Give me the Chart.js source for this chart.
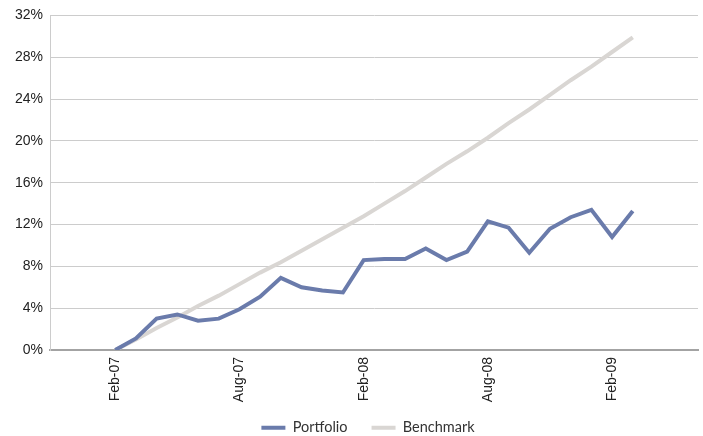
<!DOCTYPE html>
<html>
<head>
<meta charset="utf-8">
<script src="https://cdn.jsdelivr.net/npm/chart.js@4.4.1/dist/chart.umd.min.js"></script>
<style>
  html, body { margin: 0; padding: 0; background: #ffffff; }
  #wrap { width: 703px; height: 436px; }
</style>
</head>
<body>
<div id="wrap"><canvas id="perf-chart" width="703" height="436"></canvas></div>
<script>
  // Monthly points, Feb-07 .. Mar-09.
  const months = [
    'Feb-07', 'Mar-07', 'Apr-07', 'May-07', 'Jun-07', 'Jul-07', 'Aug-07', 'Sep-07', 'Oct-07', 'Nov-07', 'Dec-07', 'Jan-08',
    'Feb-08', 'Mar-08', 'Apr-08', 'May-08', 'Jun-08', 'Jul-08', 'Aug-08', 'Sep-08', 'Oct-08', 'Nov-08', 'Dec-08', 'Jan-09',
    'Feb-09', 'Mar-09'
  ];
  const portfolio = [
    0.0, 1.1, 3.0, 3.4, 2.8, 3.0, 3.9, 5.1, 6.9, 6.0, 5.7, 5.5,
    8.6, 8.7, 8.7, 9.7, 8.6, 9.4, 12.3, 11.7, 9.3, 11.6, 12.7, 13.4,
    10.8, 13.3
  ];
  const benchmark = [
    0.0, 1.0, 2.1, 3.1, 4.2, 5.2, 6.3, 7.4, 8.4, 9.5, 10.6, 11.7,
    12.8, 14.0, 15.2, 16.5, 17.8, 19.0, 20.3, 21.7, 23.0, 24.4, 25.8, 27.1,
    28.5, 29.9
  ];
  const xTickLabels = [ 'Feb-07', 'Aug-07', 'Feb-08', 'Aug-08', 'Feb-09' ];
  const yTicks = [ 0, 4, 8, 12, 16, 20, 24, 28, 32 ];

  const toPoints = ( arr ) => arr.map( ( v, i ) => ( { x: i, y: v } ) );

  // Nudge the legend a little right, and let the rotated x labels run past the axis box.
  const layoutTweaks = {
    id: 'layoutTweaks',
    afterLayout( chart ) {
      if ( chart.legend ) {
        chart.legend.left += 19;
        chart.legend.right += 19;
      }
      if ( chart.scales.x ) {
        chart.scales.x.bottom = chart.height;
      }
    },
  };

  new Chart( document.getElementById( 'perf-chart' ).getContext( '2d' ), {
    type: 'line',
    data: {
      datasets: [
        {
          label: 'Portfolio',
          data: toPoints( portfolio ),
          borderColor: '#6a7bab',
          backgroundColor: '#6a7bab',
          borderWidth: 4,
          pointRadius: 0,
          tension: 0,
          order: 1,
        },
        {
          label: 'Benchmark',
          data: toPoints( benchmark ),
          borderColor: '#d9d6d3',
          backgroundColor: '#d9d6d3',
          borderWidth: 4,
          pointRadius: 0,
          tension: 0,
          order: 2,
        },
      ],
    },
    plugins: [ layoutTweaks ],
    options: {
      responsive: false,
      animation: false,
      layout: { padding: { left: 0, right: 5, top: 14, bottom: -9 } },
      plugins: {
        tooltip: { enabled: false },
        legend: {
          position: 'bottom',
          labels: {
            usePointStyle: true,
            pointStyle: 'line',
            pointStyleWidth: 24,
            boxWidth: 24,
            padding: 24,
            color: '#333333',
            font: { family: 'Lato', size: 14.5 },
          },
        },
      },
      scales: {
        x: {
          type: 'linear',
          min: -3.15,
          max: 28.15,
          afterBuildTicks: ( axis ) => {
            axis.ticks = xTickLabels.map( ( l ) => ( { value: months.indexOf( l ) } ) );
          },
          afterFit: ( axis ) => { axis.height = 46.5; },
          grid: { display: false, drawTicks: false },
          border: { display: true, color: '#a3a3a3', width: 2 },
          ticks: {
            autoSkip: false,
            minRotation: 90,
            maxRotation: 90,
            padding: 7,
            color: '#222222',
            font: { family: 'Liberation Sans', size: 14 },
            callback: ( v ) => months[ v ],
          },
        },
        y: {
          min: 0,
          max: 32,
          afterBuildTicks: ( axis ) => {
            axis.ticks = yTicks.map( ( v ) => ( { value: v } ) );
          },
          afterFit: ( axis ) => { axis.width = 50; },
          grid: {
            drawTicks: false,
            color: '#cccccc',
            lineWidth: 1,
          },
          border: { display: true, color: '#cccccc', width: 1 },
          ticks: {
            padding: 7,
            color: '#222222',
            font: { family: 'Liberation Sans', size: 14 },
            callback: ( v ) => v + '%',
          },
        },
      },
    },
  } );
</script>
</body>
</html>
